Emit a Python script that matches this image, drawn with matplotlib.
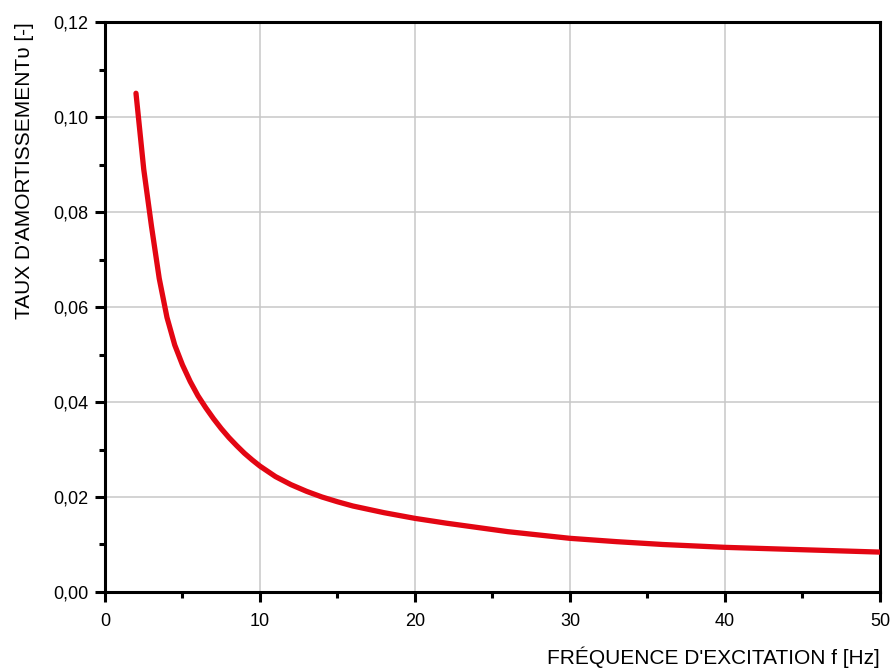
import numpy as np
import matplotlib
matplotlib.use('Agg')
import matplotlib.pyplot as plt
from matplotlib.ticker import MultipleLocator, FuncFormatter

# values
freq = [2.0, 2.5, 3.0, 3.5, 4.0, 4.5, 5.0, 5.5, 6.0, 6.5, 7.0, 7.5, 8.0, 8.5,
        9.0, 9.5, 10, 11, 12, 13, 14, 15, 16, 17, 18, 19, 20, 22, 24, 26, 28,
        30, 33, 36, 40, 45, 50]
damping = [0.105, 0.0890, 0.0770, 0.0660, 0.0578, 0.0520, 0.0478, 0.0443,
           0.0413, 0.0388, 0.0365, 0.0344, 0.0325, 0.0308, 0.0292, 0.0278,
           0.0265, 0.0243, 0.0226, 0.0212, 0.0200, 0.0190, 0.0181, 0.0174,
           0.0167, 0.0161, 0.0155, 0.0145, 0.0136, 0.0127, 0.0120, 0.0113,
           0.0106, 0.0100, 0.0094, 0.0089, 0.0084]

xlabel = "FRÉQUENCE D'EXCITATION f [Hz]"
ylabel = "TAUX D'AMORTISSEMENTυ [-]"

plt.rcParams['font.family'] = ['Liberation Sans', 'DejaVu Sans']

fig = plt.figure(figsize=(8.92, 6.69), dpi=100)
ax = fig.add_axes([0.1177, 0.1151, 0.8688, 0.8520])

ax.plot(freq, damping, color='#e30613', lw=3.8, solid_capstyle='round',
        solid_joinstyle='round', zorder=3)

ax.set_xlim(0, 50)
ax.set_ylim(0, 0.12)
ax.xaxis.set_major_locator(MultipleLocator(10))
ax.xaxis.set_minor_locator(MultipleLocator(5))
ax.yaxis.set_major_locator(MultipleLocator(0.02))
ax.yaxis.set_minor_locator(MultipleLocator(0.01))
ax.yaxis.set_major_formatter(FuncFormatter(lambda v, p: ('%.2f' % v).replace('.', ',')))

ax.grid(True, which='major', color='#c8c8c8', lw=1.1, zorder=0)
for s in ax.spines.values():
    s.set_linewidth(2.2)
ax.tick_params(which='major', direction='out', length=7, width=2.2, labelsize=13, pad=4)
ax.tick_params(which='minor', direction='out', length=4, width=2.2)
ax.tick_params(axis='x', which='both', pad=8)
ax.tick_params(axis='y', which='both', pad=5)

ax.set_xlabel(xlabel, fontsize=15, loc='right', labelpad=12)
ax.set_ylabel(ylabel, fontsize=15, loc='top', labelpad=14)

fig.savefig('out.png', dpi=100)
